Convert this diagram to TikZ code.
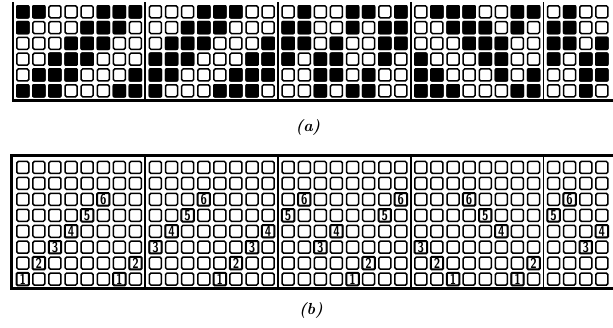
\documentclass[tikz,border=0pt]{standalone}
\usepackage{fontspec}
\usepackage{graphicx}
\begin{document}
\begin{tikzpicture}[x=1pt,y=-1pt,
  cell/.style={draw=black,fill=white,line width=1.5pt,rounded corners=1.5pt},
  blk/.style={fill=black,rounded corners=1pt},
  frame/.style={line width=2.6pt},
  sep/.style={line width=1.8pt},
  num/.style={draw=black,fill=white,line width=2pt,rounded corners=1pt,minimum size=12.4pt,inner sep=0pt,
    font=\sffamily\bfseries\fontsize{14.5}{14.5}\selectfont},
  lab/.style={font=\bfseries\itshape\fontsize{16}{18}\selectfont}]
\useasboundingbox (0,0) rectangle (613,327);
% ---------- (a) ----------
\foreach \r in {1,...,6} \foreach \c in {1,...,36} {
  \pgfmathsetmacro\xl{16+floor((\c-1)/8)*132.7+mod(\c-1,8)*16.1}
  \pgfmathsetmacro\yt{5+(\r-1)*15.8}
  \draw[cell] (\xl+0.75,\yt+0.75) rectangle ++(12,12);
}
\foreach \r/\cols in {
  1/{1,2,6,7,8,12,13,14,18,21,22,24,26,27,28,31,32,34},
  2/{1,5,6,7,11,12,13,17,18,21,23,24,27,28,29,31,33,34},
  3/{4,5,6,10,11,12,16,17,18,20,23,24,28,29,30,33,34,36},
  4/{3,4,5,9,10,11,15,16,17,19,20,23,25,29,30,33,35,36},
  5/{2,3,4,8,9,10,14,15,16,19,20,22,25,26,30,32,35,36},
  6/{1,2,3,7,8,9,13,14,15,19,21,22,25,26,27,31,32,35}} {
  \foreach \c in \cols {
    \pgfmathsetmacro\xl{16+floor((\c-1)/8)*132.7+mod(\c-1,8)*16.1}
    \pgfmathsetmacro\yt{5+(\r-1)*15.8}
    \fill[blk] (\xl,\yt) rectangle ++(13.5,13.5);
  }
}
\draw[frame] (12.8,2) -- (12.8,100.3) -- (613,100.3);
\foreach \b in {1,...,4} \draw[sep] ({16+\b*132.7-3.4},2) -- ++(0,98.3);
\node[lab] (la) at (308,127) {(a)};
% ---------- (b) ----------
\foreach \r in {1,...,8} \foreach \c in {1,...,36} {
  \pgfmathsetmacro\xl{16+floor((\c-1)/8)*132.7+mod(\c-1,8)*16.1}
  \pgfmathsetmacro\yt{160.7+(\r-1)*15.95}
  \draw[cell] (\xl+0.75,\yt+0.75) rectangle ++(12,12);
}
\foreach \n/\cols in {
  1/{1,7,13,21,27,31},
  2/{2,8,14,22,26,32},
  3/{3,9,15,19,25,35},
  4/{4,10,16,20,30,36},
  5/{5,11,17,23,29,33},
  6/{6,12,18,24,28,34}} {
  \foreach \c in \cols {
    \pgfmathsetmacro\xl{16+floor((\c-1)/8)*132.7+mod(\c-1,8)*16.1}
    \pgfmathsetmacro\yt{160.7+(8-\n)*15.95}
    \node[num] (n\n-\c) at (\xl+6.75,\yt+6.75) {\scalebox{0.8}[1]{\n}};
  }
}
\draw[frame] (613,155.3) -- (11.5,155.3) -- (11.5,288.3) -- (613,288.3);
\foreach \b in {1,...,4} \draw[sep] ({16+\b*132.7-3.4},155.3) -- ({16+\b*132.7-3.4},288.3);
\node[lab] (lb) at (311,310) {(b)};
\end{tikzpicture}
\end{document}
